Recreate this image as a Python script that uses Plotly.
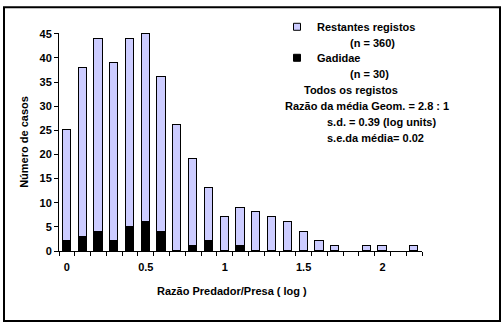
import plotly.graph_objects as go

# ---- data ----
ratio_log = [0.0, 0.1, 0.2, 0.3, 0.4, 0.5, 0.6, 0.7, 0.8, 0.9, 1.0, 1.1,
             1.2, 1.3, 1.4, 1.5, 1.6, 1.7, 1.8, 1.9, 2.0, 2.1, 2.2]
gadidae = [2, 3, 4, 2, 5, 6, 4, 0, 1, 2, 0, 1,
           0, 0, 0, 0, 0, 0, 0, 0, 0, 0, 0]
restantes = [23, 35, 40, 37, 39, 39, 32, 26, 18, 11, 7, 8,
             8, 7, 6, 4, 2, 1, 0, 1, 1, 0, 1]
x_tickvals = [0, 0.5, 1, 1.5, 2]
x_ticktext = ["0", "0.5", "1", "1.5", "2"]
y_tickvals = [0, 5, 10, 15, 20, 25, 30, 35, 40, 45]

W, H = 504, 326
ML, MR, MT, MB = 59, 82, 30, 75
PW, PH = W - ML - MR, H - MT - MB

def px(xp):
    return (xp - ML) / PW

def py(yp):
    return (H - MB - yp) / PH

def nz(vals):
    return [v if v else None for v in vals]

FONT = dict(family="Liberation Sans, Arial, sans-serif", size=11, color="black", weight="bold")
LIGHT = "#CCCCFF"

fig = go.Figure()
fig.add_trace(go.Bar(x=ratio_log, y=nz(gadidae), name="Gadidae", width=0.052,
                     marker=dict(color="black", line=dict(color="black", width=1)),
                     showlegend=False))
fig.add_trace(go.Bar(x=ratio_log, y=nz(restantes), name="Restantes registos", width=0.052,
                     marker=dict(color=LIGHT, line=dict(color="black", width=1)),
                     showlegend=False))
# legend keys
fig.add_trace(go.Scatter(x=[None], y=[None], mode="markers", name="Restantes registos",
                         legendgroup="a",
                         marker=dict(symbol="square", size=7, color=LIGHT,
                                     line=dict(color="black", width=1))))
fig.add_trace(go.Scatter(x=[None], y=[None], mode="markers", name="Gadidae",
                         legendgroup="b",
                         marker=dict(symbol="square", size=7, color="black",
                                     line=dict(color="black", width=1))))

boundaries = [round(v - 0.05, 3) for v in ratio_log] + [round(ratio_log[-1] + 0.05, 3)]

fig.update_layout(
    width=W, height=H,
    margin=dict(l=ML, r=MR, t=MT, b=MB, pad=0),
    paper_bgcolor="white", plot_bgcolor="white",
    barmode="stack", bargap=0,
    font=FONT,
    showlegend=True,
    legend=dict(x=px(277), y=py(9), xanchor="left", yanchor="top",
                bgcolor="rgba(0,0,0,0)", font=FONT, tracegroupgap=12,
                traceorder="grouped", itemclick=False),
    xaxis=dict(type="linear", range=[-0.05, 2.25], showgrid=False, zeroline=False,
               showline=True, linecolor="black", linewidth=1,
               tickmode="array", tickvals=x_tickvals, ticktext=x_ticktext,
               ticks="", tickfont=FONT, ticklabelstandoff=6,
               minor=dict(tickmode="array", tickvals=boundaries, ticks="outside",
                          ticklen=4, tickcolor="black", tickwidth=1, showgrid=False)),
    yaxis=dict(range=[0, 45.15], showgrid=False, zeroline=False,
               showline=True, linecolor="black", linewidth=1,
               tickmode="array", tickvals=y_tickvals,
               ticks="outside", ticklen=4, tickcolor="black", tickwidth=1,
               tickfont=FONT,
               title=dict(text="Número de casos", font=FONT, standoff=8)),
    shapes=[dict(type="rect", xref="paper", yref="paper",
                 x0=px(4), x1=px(500), y0=py(322), y1=py(4),
                 line=dict(color="black", width=2), fillcolor="rgba(0,0,0,0)",
                 layer="below")],
)

notes = [
    ("Razão Predador/Presa ( log )", 232, 292, "center"),
    ("(n = 360)", 348, 40, "left"),
    ("(n = 30)", 348, 72, "left"),
    ("Todos os registos", 302, 88, "left"),
    ("Razão da média Geom. = 2.8 : 1", 283, 104, "left"),
    ("s.d. = 0.39 (log units)", 325, 120, "left"),
    ("s.e.da média= 0.02", 325, 136, "left"),
]
for txt, xx, yy, anc in notes:
    fig.add_annotation(text=txt, xref="paper", yref="paper", x=px(xx), y=py(yy),
                       xanchor=anc, yanchor="middle", showarrow=False, font=FONT)

fig.write_html("out.html")
